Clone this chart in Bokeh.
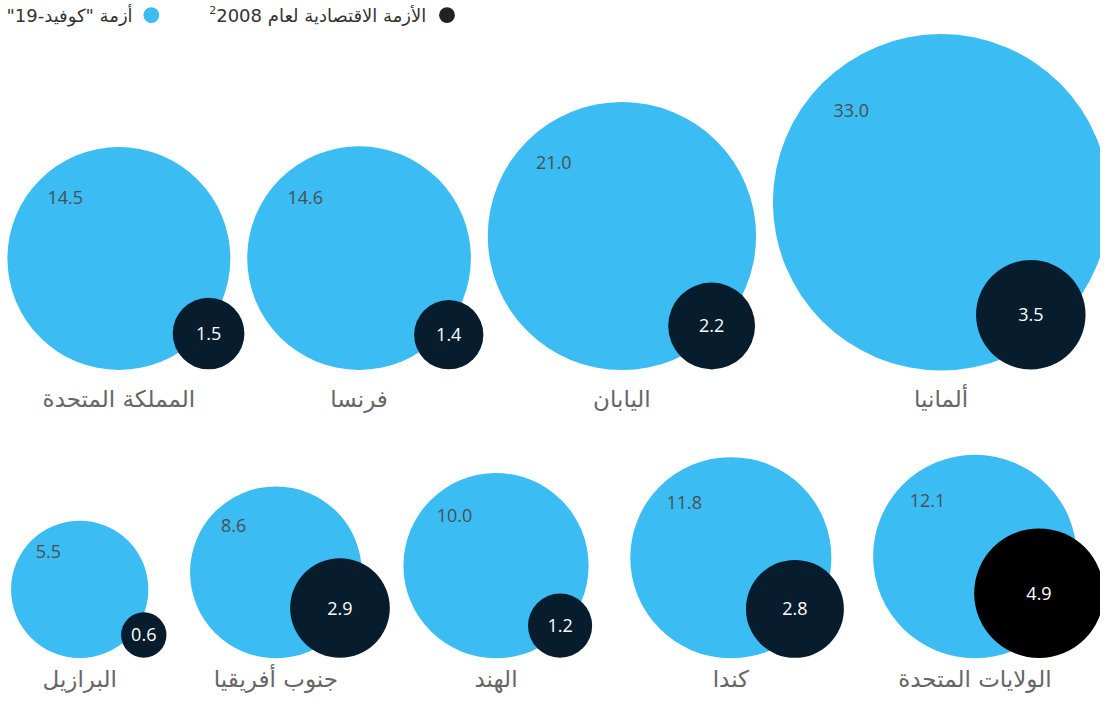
import numpy as np
from bokeh.plotting import figure
from bokeh.models import Range1d, ColumnDataSource
from bokeh.core.properties import value
from bokeh.embed import file_html
from bokeh.resources import INLINE

# ---------------- data ----------------
countries_top = ["المملكة المتحدة", "فرنسا", "اليابان", "ألمانيا"]
covid_top = [14.5, 14.6, 21.0, 33.0]
crisis2008_top = [1.5, 1.4, 2.2, 3.5]

countries_bottom = ["البرازيل", "جنوب أفريقيا", "الهند", "كندا", "الولايات المتحدة"]
covid_bottom = [5.5, 8.6, 10.0, 11.8, 12.1]
crisis2008_bottom = [0.6, 2.9, 1.2, 2.8, 4.9]

legend_labels = ["الأزمة الاقتصادية لعام 2008", "أزمة \"كوفيد-19\"\u200f"]
legend_footnote = "2"

# ---------------- style / layout ----------------
BLUE = "#3bbcf3"
NAVY = "#071d2e"
HILITE = "#000000"
K = 29.7  # layout units per sqrt(value) -> area-proportional bubbles

W, H = 1100, 699
p = figure(width=W, height=H, output_backend="svg", toolbar_location=None,
           x_range=Range1d(0, 1116), y_range=Range1d(715, 0),
           min_border=0, outline_line_color=None)
p.axis.visible = False
p.grid.visible = False
p.background_fill_color = "white"
p.border_fill_color = "white"

ARFONT = value("DejaVu Sans")
NUMFONT = value("Open Sans")


def draw_row(names, big, small, left, gap, base, offset, label_y, dark_colors):
    big = np.array(big, float)
    small = np.array(small, float)
    rb = K * np.sqrt(big)
    rs = K * np.sqrt(small)
    cx = np.zeros(len(big))
    x = left
    for i in range(len(big)):
        cx[i] = x + rb[i]
        x = cx[i] + rb[i] + gap
    cyb = base - rb
    sx = cx + offset
    sy = base - rs
    src_b = ColumnDataSource(dict(x=cx, y=cyb, r=rb,
                                  lx=cx - 0.64 * rb, ly=cyb - 0.55 * rb,
                                  t=[f"{v:.1f}" for v in big]))
    src_s = ColumnDataSource(dict(x=sx, y=sy, r=rs, c=dark_colors,
                                  t=[f"{v:.1f}" for v in small]))
    p.circle(x="x", y="y", radius="r", source=src_b, fill_color=BLUE, line_color=None)
    p.circle(x="x", y="y", radius="r", source=src_s, fill_color="c", line_color=None)
    p.text(x="lx", y="ly", text="t", source=src_b, text_font=NUMFONT,
           text_font_size="18px", text_color="#4a4f55", text_align="left",
           text_baseline="middle")
    p.text(x="x", y="y", text="t", source=src_s, text_font=NUMFONT,
           text_font_size="18px", text_color="#ffffff", text_align="center",
           text_baseline="middle")
    src_l = ColumnDataSource(dict(x=cx, y=[label_y] * len(cx), t=names))
    p.text(x="x", y="y", text="t", source=src_l, text_font=ARFONT,
           text_font_size="23px", text_color="#666666", text_align="center",
           text_baseline="middle")


draw_row(countries_top, covid_top, crisis2008_top, left=7, gap=17.1, base=377,
         offset=91, label_y=408, dark_colors=[NAVY] * 4)
draw_row(countries_bottom, covid_bottom, crisis2008_bottom, left=10.7, gap=42.3,
         base=672, offset=65, label_y=694, dark_colors=[NAVY] * 4 + [HILITE])

# legend
p.circle(x=[453, 153], y=[15, 15], radius=8, fill_color=["#222222", BLUE], line_color=None)
p.text(x=[432, 134], y=[15, 15], text=legend_labels, text_font=ARFONT,
       text_font_size="18px", text_color="#333333", text_align="right",
       text_baseline="middle")
p.text(x=[219], y=[10], text=[legend_footnote], text_font=ARFONT,
       text_font_size="11px", text_color="#333333", text_align="right",
       text_baseline="middle")

open("out.html", "w").write(file_html(p, INLINE))
